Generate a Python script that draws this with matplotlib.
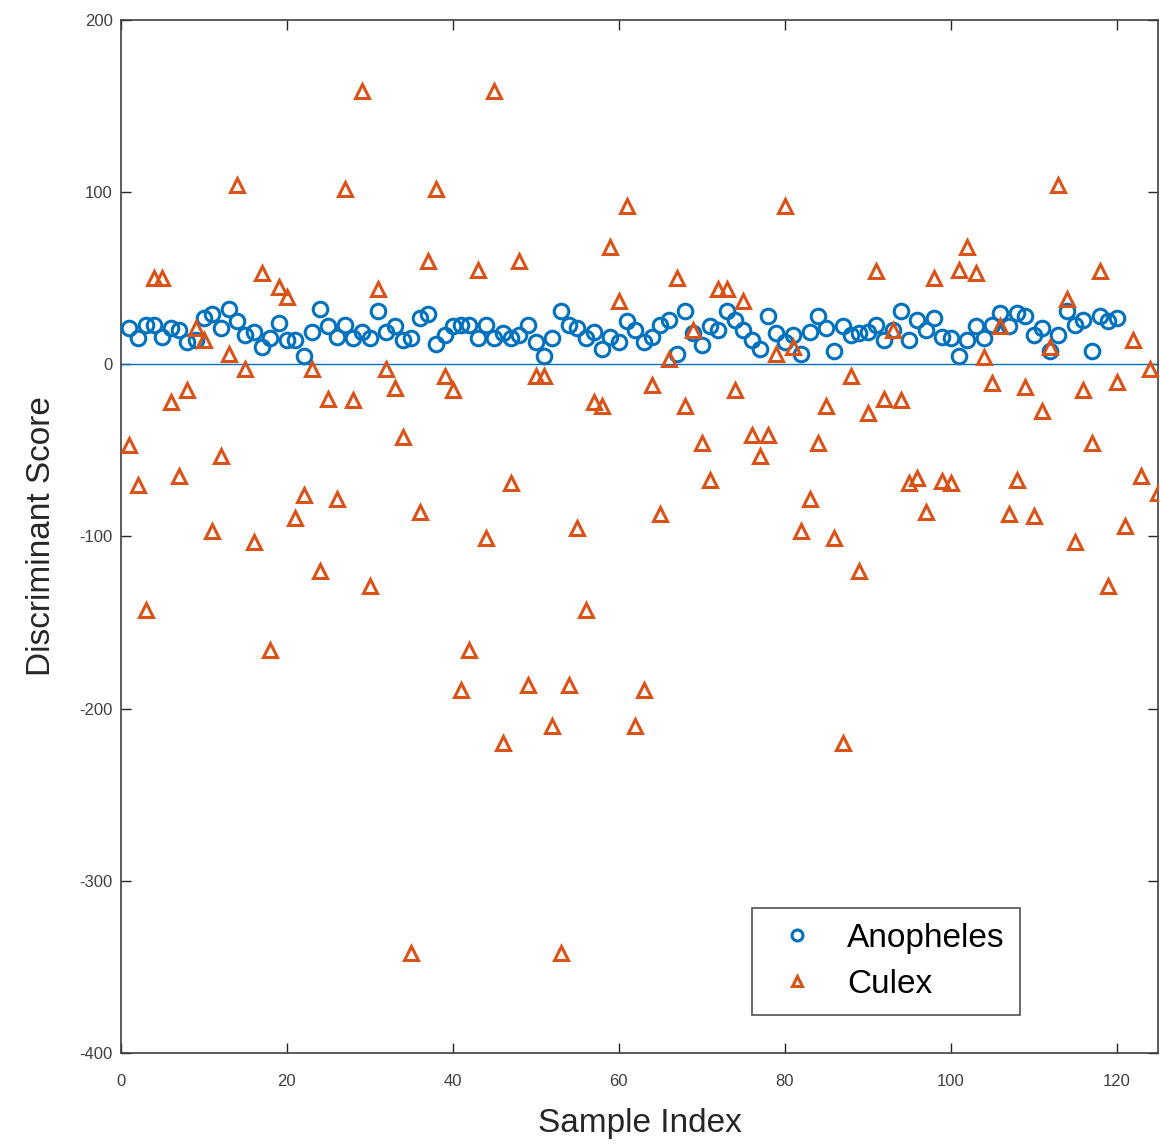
import numpy as np
import matplotlib
matplotlib.use("Agg")
import matplotlib.pyplot as plt

plt.rcParams['font.family'] = ['Liberation Sans', 'DejaVu Sans']
plt.rcParams['axes.unicode_minus'] = False

# discriminant scores
anopheles = [21, 15, 23, 23, 16, 21, 20, 13, 14, 27,
             29, 21, 32, 25, 17, 19, 10, 15, 24, 14,
             14, 5, 19, 32, 22, 16, 23, 15, 19, 15,
             31, 19, 22, 14, 15, 27, 29, 12, 17, 22,
             23, 23, 15, 23, 15, 18, 15, 17, 23, 13,
             5, 15, 31, 23, 21, 15, 19, 9, 16, 13,
             25, 20, 13, 16, 23, 26, 6, 31, 18, 11,
             22, 20, 31, 26, 20, 14, 9, 28, 18, 13,
             17, 6, 19, 28, 21, 8, 22, 17, 18, 19,
             23, 14, 20, 31, 14, 26, 20, 27, 16, 15,
             5, 14, 22, 15, 23, 30, 22, 30, 28, 17,
             21, 8, 17, 31, 23, 26, 8, 28, 25, 27]

culex = [-47, -70, -143, 50, 50, -22, -65, -15, 21, 14,
         -97, -53, 6, 104, -3, -103, 53, -166, 45, 39,
         -89, -76, -3, -120, -20, -78, 102, -21, 159, -129,
         44, -3, -14, -42, -342, -86, 60, 102, -7, -15,
         -189, -166, 55, -101, 159, -220, -69, 60, -186, -7,
         -7, -210, -342, -186, -95, -143, -22, -24, 68, 37,
         92, -210, -189, -12, -87, 3, 50, -24, 20, -46,
         -67, 44, 44, -15, 37, -41, -53, -41, 6, 92,
         10, -97, -78, -46, -24, -101, -220, -7, -120, -28,
         54, -20, 20, -21, -69, -66, -86, 50, -68, -69,
         55, 68, 53, 4, -11, 22, -87, -67, -13, -88,
         -27, 10, 104, 38, -103, -15, -46, 54, -129, -10,
         -94, 14, -65, -3, -75]

blue = '#0072BD'
orange = '#D95319'

fig = plt.figure(figsize=(11.6, 11.48), dpi=100)
ax = fig.add_axes([0.1043, 0.0828, 0.8940, 0.8998])

x_a = np.arange(1, len(anopheles) + 1)
x_c = np.arange(1, len(culex) + 1)

ax.plot(x_a, anopheles, 'o', ms=10.5, mfc='none', mec=blue, mew=2.2, label='Anopheles', zorder=3)
ax.plot(x_c, culex, '^', ms=10.5, mfc='none', mec=orange, mew=2.2, label='Culex', zorder=4)
ax.plot([0, 125], [0, 0], color=blue, lw=1.0, zorder=2)

ax.set_xlim(0, 125)
ax.set_ylim(-400, 200)
ax.set_xticks(range(0, 121, 20))
ax.set_yticks(range(-400, 201, 100))
ax.tick_params(direction='in', length=7, width=1, colors='#262626', labelsize=12,
               top=True, right=True, labelcolor='#404040')
ax.tick_params(axis='x', pad=15)
ax.tick_params(axis='y', pad=6)
for s in ax.spines.values():
    s.set_color('#404040')
    s.set_linewidth(1.2)

ax.set_xlabel('Sample Index', fontsize=24, color='#262626', labelpad=14)
ax.set_ylabel('Discriminant Score', fontsize=24, color='#262626', labelpad=16)

leg = ax.legend(loc='lower left', bbox_to_anchor=(0.5925, 0.0205), fontsize=24,
                frameon=True, fancybox=False, edgecolor='#262626',
                borderpad=0.45, handletextpad=0.6, labelspacing=0.45,
                handlelength=1.8, markerscale=0.75)
leg.get_frame().set_linewidth(1.2)

plt.savefig('out.png', dpi=100)
